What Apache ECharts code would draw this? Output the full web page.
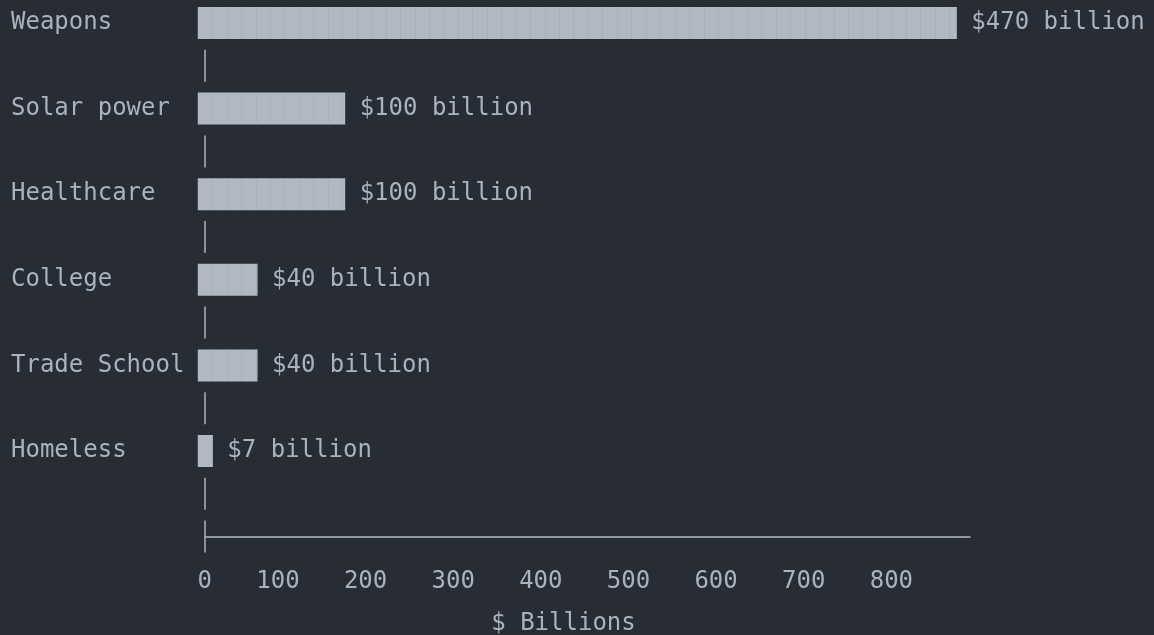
<!DOCTYPE html>
<html>
<head>
<meta charset="utf-8">
<script src="https://cdn.jsdelivr.net/npm/echarts@6/dist/echarts.min.js"></script>
<style>
  html, body { margin: 0; padding: 0; background: #282c34; }
  #chart { width: 1154px; height: 635px; }
</style>
</head>
<body>
<div id="chart"></div>
<script>
// ---- data ----
var categories = ['Weapons', 'Solar power', 'Healthcare', 'College', 'Trade School', 'Homeless'];
var amounts = [470, 100, 100, 40, 40, 7];                 // $ billions (label text)
var barLengths = [858, 160, 160, 60, 60, 9];              // bar length as drawn against the x axis
var xTicks = [0, 100, 200, 300, 400, 500, 600, 700, 800];
var xAxisName = '$ Billions';

// ---- style ----
var FONT = 'DejaVu Sans Mono';
var FS = 24;
var CELL = 14.45;
var TEXT = '#abb2bf';
var BAR = '#b1b8c4';
var BG = '#282c34';

var chart = echarts.init(document.getElementById('chart'), null, { renderer: 'canvas' });

var data = categories.map(function (c, i) { return [barLengths[i], i]; });

var option = {
  backgroundColor: BG,
  animation: false,
  grid: { left: 205, right: 184, top: 23, bottom: 184, containLabel: false, outerBoundsMode: 'none' },
  xAxis: {
    type: 'value',
    min: 0,
    max: 873,
    interval: 100,
    offset: 85.4,
    axisLine: { show: true, lineStyle: { color: '#b3bac5', width: 1.5 } },
    axisTick: { show: false },
    splitLine: { show: false },
    axisLabel: {
      customValues: xTicks,
      color: TEXT,
      fontFamily: FONT,
      fontSize: FS,
      align: 'right',
      padding: [0, -7, 0, 0],
      margin: 33,
      formatter: function (v) { return String(v); }
    },
    name: xAxisName,
    nameLocation: 'middle',
    nameGap: 75,
    nameTextStyle: { color: TEXT, fontFamily: FONT, fontSize: FS, padding: [0, 48, 0, 0] }
  },
  yAxis: {
    type: 'category',
    inverse: true,
    boundaryGap: false,
    data: categories,
    axisLine: { show: false },
    axisTick: { show: false },
    splitLine: { show: false },
    axisLabel: {
      color: TEXT,
      fontFamily: FONT,
      fontSize: FS,
      align: 'left',
      margin: 194
    }
  },
  series: [{
    type: 'custom',
    clip: false,
    data: data,
    encode: { x: 0, y: 1 },
    renderItem: function (params, api) {
      var idx = api.value(1);
      var start = api.coord([0, idx]);
      var end = api.coord([api.value(0), idx]);
      var band = api.size([0, 1])[1];
      var h = 32;
      var x0 = start[0] - CELL / 2;
      var w = end[0] - x0;
      var children = [{
        type: 'rect',
        shape: { x: x0, y: start[1] - h / 2, width: w, height: h },
        style: { fill: BAR }
      }];
      for (var k = 1; k * CELL < w - 2; k++) {
        var sx = Math.round(x0 + k * CELL) + 0.5;
        children.push({
          type: 'line',
          shape: { x1: sx, y1: start[1] - h / 2, x2: sx, y2: start[1] + h / 2 },
          style: { stroke: 'rgba(120,175,170,0.35)', lineWidth: 1 }
        });
      }
      children.push({
        type: 'text',
        style: {
          x: end[0] + CELL,
          y: start[1],
          text: '$' + amounts[params.dataIndex] + ' billion',
          fill: TEXT,
          font: FS + 'px "' + FONT + '"',
          align: 'left',
          verticalAlign: 'middle'
        }
      });
      // axis pipe below each row
      var py = start[1] + band / 2;
      children.push({
        type: 'line',
        shape: { x1: start[0], y1: py - 16, x2: start[0], y2: py + 16 },
        style: { stroke: TEXT, lineWidth: 1.5 }
      });
      if (params.dataIndex === categories.length - 1) {
        var cy = start[1] + band;
        children.push({
          type: 'line',
          shape: { x1: start[0], y1: cy - 16, x2: start[0], y2: cy + 16 },
          style: { stroke: TEXT, lineWidth: 1.5 }
        });
      }
      return { type: 'group', children: children };
    }
  }]
};

chart.setOption(option);
</script>
</body>
</html>
